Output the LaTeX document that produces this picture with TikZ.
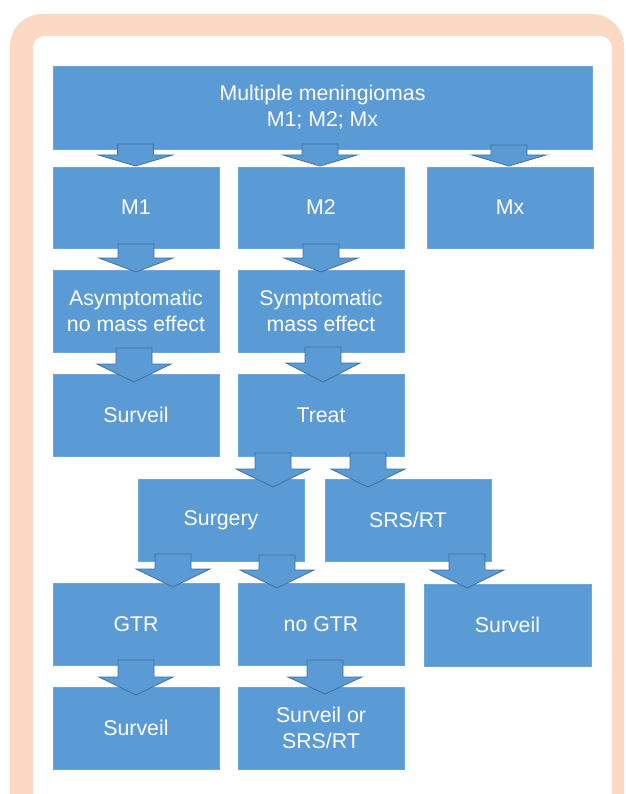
\documentclass[tikz,border=0pt]{standalone}
\usepackage{fontspec}
\setmainfont{Liberation Sans}
\definecolor{boxblue}{RGB}{91,155,213}
\definecolor{boxedge}{RGB}{110,166,218}
\definecolor{arrline}{RGB}{65,113,156}
\definecolor{peach}{RGB}{252,217,195}
\newcommand{\blkarrow}[4]{%
  \draw[barrow] (#1-18,#2) -- (#1+18,#2) -- (#1+18,#3) -- (#1+37,#3) -- (#1,#4) -- (#1-37,#3) -- (#1-18,#3) -- cycle;}
\begin{document}
\begin{tikzpicture}[x=1pt,y=-1pt,
  box/.style={fill=boxblue, draw=boxedge, line width=0.6pt, text=white,
    font=\fontsize{21.3}{26}\selectfont, align=center, inner sep=0pt,
    minimum width=166pt, minimum height=82pt},
  barrow/.style={fill=boxblue, draw=arrline, line width=0.8pt, line join=miter}]
\useasboundingbox (0,0) rectangle (625,794);
\clip (0,0) rectangle (625,794);
\fill[peach, rounded corners=32pt] (10,14) rectangle (624,870);
\fill[white, rounded corners=12pt] (33,36) rectangle (612,870);

\node[box, minimum width=539pt, minimum height=83pt] (top) at (322.5,107.5) {Multiple meningiomas\\M1; M2; Mx};
\node[box, minimum height=81pt] (m1) at (136,207.5) {M1};
\node[box, minimum height=81pt] (m2) at (321,207.5) {M2};
\node[box, minimum height=81pt] (mx) at (510,207.5) {Mx};
\node[box] (asym) at (136,311) {Asymptomatic\\no mass effect};
\node[box] (symp) at (321,311) {Symptomatic\\mass effect};
\node[box] (surv1) at (136,415) {Surveil};
\node[box] (treat) at (321,415) {Treat};
\node[box] (surgery) at (221,520) {Surgery};
\node[box] (srs) at (408,520) {SRS/RT};
\node[box] (gtr) at (136,624) {GTR};
\node[box] (nogtr) at (321,624) {no GTR};
\node[box, minimum width=167pt] (surv2) at (507.5,625) {Surveil};
\node[box] (surv3) at (136,728) {Surveil};
\node[box] (survsrs) at (321,728) {Surveil or\\SRS/RT};

% block arrows (top -> M1, M2, Mx)
\blkarrow{135.5}{144}{155}{166}
\blkarrow{320}{144}{155}{166}
\blkarrow{509}{145}{155}{166}
% M1 -> asym, M2 -> symp
\blkarrow{136}{244}{258}{272}
\blkarrow{321}{244}{258}{272}
% asym -> surveil, symp -> treat
\blkarrow{134}{348}{364}{382}
\blkarrow{323}{347}{363}{382}
% treat -> surgery, treat -> srs
\blkarrow{273}{453}{469}{487}
\blkarrow{368}{453}{469}{487}
% surgery -> gtr, surgery -> no gtr, srs -> surveil
\blkarrow{173}{554}{569}{587}
\blkarrow{277}{555}{570}{588}
\blkarrow{467}{554}{570}{588}
% gtr -> surveil, no gtr -> surveil or srs
\blkarrow{136}{660}{677}{695}
\blkarrow{325}{660}{677}{694}
\end{tikzpicture}
\end{document}
